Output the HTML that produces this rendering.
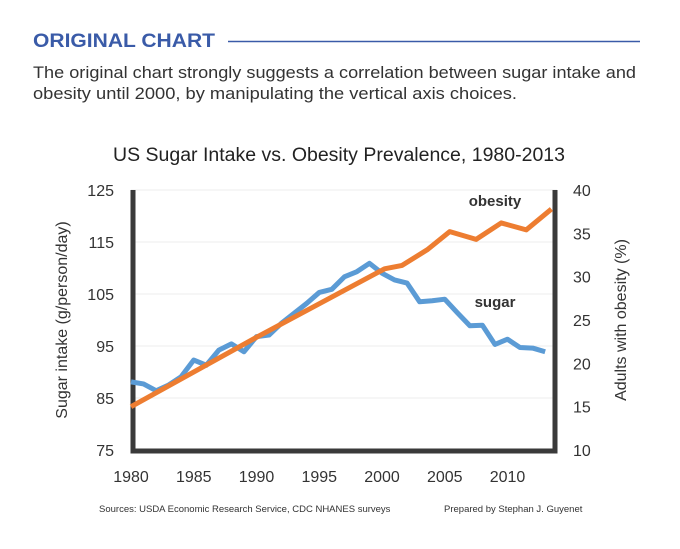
<!DOCTYPE html>
<html><head><meta charset="utf-8"><style>
body{margin:0;background:#fff;width:680px;height:544px;overflow:hidden;font-family:"Liberation Sans",sans-serif}
</style></head><body>
<svg width="680" height="544" viewBox="0 0 680 544">
<text x="33" y="47" font-size="19" font-weight="bold" fill="#3a5ba8" textLength="182" lengthAdjust="spacingAndGlyphs">ORIGINAL CHART</text>
<line x1="228" y1="41.5" x2="640" y2="41.5" stroke="#3a5ba8" stroke-width="1.5"/>
<text x="33" y="78" font-size="17" fill="#333" textLength="603" lengthAdjust="spacingAndGlyphs">The original chart strongly suggests a correlation between sugar intake and</text>
<text x="33" y="99" font-size="17" fill="#333" textLength="484" lengthAdjust="spacingAndGlyphs">obesity until 2000, by manipulating the vertical axis choices.</text>
<text x="339" y="161" font-size="19" fill="#222" text-anchor="middle" textLength="452" lengthAdjust="spacingAndGlyphs">US Sugar Intake vs. Obesity Prevalence, 1980-2013</text>
<g id="grid"></g><g id="axes"></g><g id="series"></g>
<text x="495" y="206" font-size="15" font-weight="bold" fill="#333" text-anchor="middle">obesity</text>
<text x="495" y="307" font-size="15" font-weight="bold" fill="#333" text-anchor="middle">sugar</text>
<text transform="translate(67,320) rotate(-90)" font-size="16" fill="#333" text-anchor="middle">Sugar intake (g/person/day)</text>
<text transform="translate(626,320) rotate(-90)" font-size="16" fill="#333" text-anchor="middle">Adults with obesity (%)</text>
<text x="99" y="512" font-size="9.5" fill="#333">Sources: USDA Economic Research Service, CDC NHANES surveys</text>
<text x="444" y="512" font-size="9.5" fill="#333">Prepared by Stephan J. Guyenet</text>
</svg>
<script>
const sugarYears=[1980,1981,1982,1983,1984,1985,1986,1987,1988,1989,1990,1991,1992,1993,1994,1995,1996,1997,1998,1999,2000,2001,2002,2003,2004,2005,2006,2007,2008,2009,2010,2011,2012,2013];
const sugarValues=[88.1,87.7,86.4,87.5,89.1,92.3,91.3,94.2,95.4,93.9,96.8,97.1,99.4,101.3,103.2,105.3,105.9,108.3,109.3,110.9,109,107.7,107.1,103.5,103.7,104,101.4,98.9,99,95.3,96.3,94.7,94.6,93.9];
const obesityYears=[1980,1990,2000.2,2001.6,2003.6,2005.4,2007.5,2009.5,2011.5,2013.5];
const obesityValues=[15.0,23.0,30.9,31.3,33.1,35.2,34.3,36.2,35.4,37.8];
const leftTicks=[75,85,95,105,115,125];
const rightTicks=[10,15,20,25,30,35,40];
const xTicks=[1980,1985,1990,1995,2000,2005,2010];
const NS="http://www.w3.org/2000/svg";
const X=y=>131+12.55*(y-1980);
const YL=v=>450-(v-75)*5.2;
const YR=v=>450-(v-10)*8.667;
function mk(tag,attrs,parent,txt){const e=document.createElementNS(NS,tag);for(const k in attrs)e.setAttribute(k,attrs[k]);if(txt!==undefined)e.textContent=txt;parent.appendChild(e);return e;}
const grid=document.getElementById('grid'),axes=document.getElementById('axes'),ser=document.getElementById('series');
leftTicks.forEach(v=>{
 if(v>75){const g=mk('line',{x1:131,x2:557,y1:YL(v),y2:YL(v),stroke:'#ececec','stroke-width':1},grid);
 
 }
 const t=mk('text',{x:114,y:YL(v)+6,'font-size':16,fill:'#333','text-anchor':'end'},axes,String(v));
 
 
});
rightTicks.forEach(v=>{
 const t=mk('text',{x:573,y:YR(v)+6,'font-size':16,fill:'#333'},axes,String(v));
 
 
});
xTicks.forEach(v=>{
 const t=mk('text',{x:X(v),y:482,'font-size':16,fill:'#333','text-anchor':'middle'},axes,String(v));
 
 
});
const frame=mk('path',{d:'M133,190 L133,451 L555,451 L555,190',fill:'none',stroke:'#3a3a3a','stroke-width':5},axes);


const sp=mk('polyline',{points:sugarYears.map((y,i)=>X(y)+','+YL(sugarValues[i])).join(' '),fill:'none',stroke:'#5b9bd5','stroke-width':5,'stroke-linejoin':'round'},ser);


const op=mk('polyline',{points:obesityYears.map((y,i)=>X(y)+','+YR(obesityValues[i])).join(' '),fill:'none',stroke:'#ed7d31','stroke-width':5,'stroke-linejoin':'round'},ser);


</script>
</body></html>
